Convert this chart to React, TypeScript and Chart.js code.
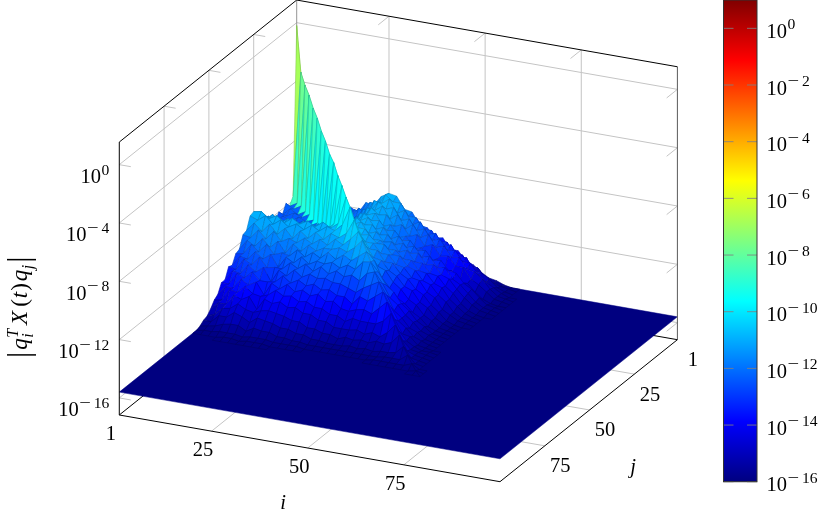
import React, { useEffect, useRef } from "react";
import { Chart, registerables } from "chart.js";

Chart.register(...registerables);

// Log10 magnitude table. The matrix is symmetric, so only i < j is listed.
const sampledIndex = [1, 3, 5, 7, 9, 11, 13, 15, 17, 19, 21, 23, 25, 27, 29, 31, 33, 35, 37, 39, 41, 43, 45, 47, 49, 51, 53, 55, 57, 59];
const meshIndex = [...sampledIndex, 61, 100];
const floorLog = -15.6;
const diagonalLog = [-0.2, -3.1, -3.7, -4.1, -4.7, -5.1, -5.7, -6.1, -6.7, -7.0, -7.6, -8.0, -8.5, -8.9, -9.5, -10.0, -10.3, -10.8, -11.2, -11.6, -12.0, -12.4, -12.8, -13.3, -13.8, -14.2, -14.7, -15.0, -15.3, -15.5];
const offDiagonalLog = [
  [],
  [-11.7],
  [-12.2, -11.9],
  [-11.8, -12.1, -11.8],
  [-12.4, -11.9, -12.2, -11.9],
  [-12.0, -12.2, -11.9, -12.1, -11.8],
  [-12.5, -12.0, -12.3, -11.9, -12.1, -11.9],
  [-12.0, -12.3, -12.0, -12.2, -11.9, -12.1, -11.8],
  [-12.3, -11.9, -12.2, -11.9, -12.2, -11.9, -12.0, -11.8],
  [-11.5, -12.0, -11.5, -12.1, -11.6, -12.1, -11.6, -12.0, -11.4],
  [-11.6, -11.2, -11.8, -11.3, -11.9, -11.4, -11.8, -11.4, -11.7, -11.2],
  [-10.9, -11.3, -10.8, -11.3, -10.9, -11.4, -10.9, -11.3, -10.9, -11.2, -10.7],
  [-10.6, -10.5, -10.9, -10.6, -11.0, -10.6, -10.9, -10.6, -10.9, -10.5, -10.8, -10.4],
  [-10.7, -10.9, -10.5, -11.0, -10.6, -11.0, -10.7, -11.0, -10.6, -10.9, -10.5, -10.7, -10.2],
  [-11.5, -10.9, -11.4, -10.8, -11.4, -10.9, -11.5, -10.9, -11.3, -10.8, -11.2, -10.7, -10.9, -10.5],
  [-11.6, -11.7, -11.1, -11.6, -11.0, -11.6, -11.3, -11.5, -11.1, -11.4, -11.0, -11.3, -10.8, -11.1, -10.6],
  [-12.4, -11.7, -12.0, -11.4, -11.9, -11.4, -12.1, -11.4, -11.8, -11.3, -11.6, -11.3, -11.3, -11.1, -11.3, -10.9],
  [-12.5, -12.4, -11.7, -12.1, -11.5, -12.1, -11.9, -12.0, -11.5, -11.9, -11.5, -11.8, -11.3, -11.7, -11.3, -11.6, -11.2],
  [-13.1, -12.4, -12.5, -11.9, -12.3, -11.9, -12.7, -11.9, -12.2, -11.7, -12.1, -11.8, -11.9, -11.7, -12.0, -11.7, -11.9, -11.3],
  [-13.0, -13.1, -12.3, -12.6, -12.0, -12.6, -12.5, -12.5, -12.0, -12.3, -11.9, -12.3, -11.9, -12.3, -12.0, -12.3, -12.1, -12.4, -11.8],
  [-13.7, -13.0, -13.1, -12.4, -12.8, -12.4, -13.3, -12.4, -12.7, -12.2, -12.6, -12.3, -12.5, -12.4, -12.6, -12.6, -12.8, -13.0, -12.6, -12.3],
  [-13.7, -13.7, -12.9, -13.1, -12.6, -13.1, -13.1, -13.0, -12.5, -12.9, -12.6, -12.9, -12.7, -13.0, -12.9, -13.2, -13.2, -13.6, -13.0, -13.2, -12.8],
  [-14.3, -13.7, -13.7, -13.0, -13.3, -13.0, -13.8, -12.9, -13.2, -12.8, -13.2, -13.0, -13.3, -13.1, -13.5, -13.4, -13.8, -13.9, -13.7, -13.6, -13.8, -13.3],
  [-14.5, -14.4, -13.6, -13.7, -13.2, -13.6, -13.7, -13.5, -13.1, -13.4, -13.3, -13.6, -13.5, -13.8, -13.8, -14.1, -14.1, -14.4, -14.1, -14.2, -14.2, -14.2, -13.9],
  [-14.9, -14.4, -14.4, -13.7, -13.9, -13.6, -14.4, -13.6, -13.8, -13.6, -13.9, -13.8, -14.1, -14.1, -14.4, -14.4, -14.7, -14.7, -14.7, -14.6, -14.8, -14.6, -14.8, -14.4],
  [-15.2, -15.0, -14.5, -14.4, -14.0, -14.3, -14.4, -14.2, -14.1, -14.2, -14.3, -14.5, -14.5, -14.8, -14.8, -15.0, -15.0, -15.2, -15.0, -15.1, -15.0, -15.1, -14.9, -15.0, -14.8],
  [-15.3, -15.3, -14.8, -14.8, -14.4, -14.6, -14.9, -14.5, -14.6, -14.7, -14.9, -14.9, -15.1, -15.1, -15.3, -15.3, -15.4, -15.4, -15.4, -15.3, -15.4, -15.3, -15.4, -15.3, -15.3, -15.2],
  [-15.5, -15.4, -15.3, -15.1, -15.0, -15.0, -15.3, -15.0, -15.1, -15.1, -15.3, -15.3, -15.4, -15.4, -15.5, -15.5, -15.5, -15.5, -15.5, -15.5, -15.5, -15.5, -15.5, -15.5, -15.4, -15.4, -15.4],
  [-15.6, -15.5, -15.5, -15.4, -15.4, -15.4, -15.5, -15.4, -15.4, -15.4, -15.5, -15.5, -15.5, -15.5, -15.6, -15.6, -15.6, -15.6, -15.6, -15.6, -15.6, -15.6, -15.6, -15.5, -15.5, -15.5, -15.5, -15.5],
  [-15.6, -15.6, -15.6, -15.6, -15.5, -15.5, -15.6, -15.5, -15.5, -15.5, -15.6, -15.6, -15.6, -15.6, -15.6, -15.6, -15.6, -15.6, -15.6, -15.6, -15.6, -15.6, -15.6, -15.6, -15.6, -15.6, -15.6, -15.6, -15.6],
];

const iTicks = [1, 25, 50, 75];
const jTicks = [1, 25, 50, 75];
const zTicks = [-16, -12, -8, -4, 0];
const colorbarTicks = [-16, -14, -12, -10, -8, -6, -4, -2, 0];
const jetStops = [0, 0.125, 0.375, 0.625, 0.875, 1];
const jetColors = [[0, 0, 128], [0, 0, 255], [0, 255, 255], [255, 255, 0], [255, 0, 0], [128, 0, 0]];

const Z_MIN = -17.17;
const Z_MAX = 1.55;
const COLOR_MAX = 1;
const SERIF = '"Liberation Serif", serif';
const GRID = "rgb(196,196,196)";

function project(i: number, j: number, z: number) {
  return {
    x: 296.7 + (i - 1) * 3.8455 - (j - 1) * 1.792,
    y: 273 + (i - 1) * 0.6737 + (j - 1) * 1.4343 - (z - Z_MIN) * 14.58,
  };
}

function nodeLog(a: number, b: number) {
  if (a >= sampledIndex.length || b >= sampledIndex.length) return floorLog;
  if (a === b) return diagonalLog[a];
  return a < b ? offDiagonalLog[b][a] : offDiagonalLog[a][b];
}

function jet(t: number) {
  const v = Math.min(1, Math.max(0, t));
  let k = 0;
  while (k < jetStops.length - 2 && v > jetStops[k + 1]) k++;
  const f = (v - jetStops[k]) / (jetStops[k + 1] - jetStops[k]);
  return jetColors[k].map((c, n) => c + (jetColors[k + 1][n] - c) * f);
}

const BREAK = { x: NaN, y: NaN };
const segments = (list: number[][][]) =>
  list.flatMap(([a, b]) => [project(a[0], a[1], a[2]), project(b[0], b[1], b[2]), BREAK]);

const I0 = 1, I1 = 100, J0 = 1, J1 = 100;

const gridLines = segments([
  ...iTicks.slice(1).flatMap((i) => [
    [[i, J1, Z_MIN], [i, J0, Z_MIN]],
    [[i, J0, Z_MIN], [i, J0, Z_MAX]],
    [[i, J0, Z_MAX], [i, J0 + 6, Z_MAX]],
  ]),
  ...jTicks.slice(1).flatMap((j) => [
    [[I1, j, Z_MIN], [I0, j, Z_MIN]],
    [[I0, j, Z_MIN], [I0, j, Z_MAX]],
    [[I0, j, Z_MAX], [I0 + 3, j, Z_MAX]],
  ]),
  ...zTicks.flatMap((z) => [
    [[I0, J1, z], [I0, J0, z]],
    [[I0, J0, z], [I1, J0, z]],
    [[I0, J1, z], [I0 + 3, J1, z]],
    [[I1, J0, z], [I1, J0 + 6, z]],
  ]),
]);

const backBox = segments([
  [[I0, J1, Z_MIN], [I0, J0, Z_MIN]],
  [[I0, J0, Z_MIN], [I1, J0, Z_MIN]],
]);
const backPost = segments([[[I0, J0, Z_MIN], [I0, J0, Z_MAX]]]);
const frontBox = segments([
  [[I0, J1, Z_MIN], [I0, J1, Z_MAX]],
  [[I0, J1, Z_MAX], [I0, J0, Z_MAX]],
  [[I0, J0, Z_MAX], [I1, J0, Z_MAX]],
  [[I0, J1, Z_MIN], [I1, J1, Z_MIN]],
  [[I1, J1, Z_MIN], [I1, J0, Z_MIN]],
]);
const rightPost = segments([[[I1, J0, Z_MIN], [I1, J0, Z_MAX]]]);

const floorCorners = [
  project(I0, J0, floorLog),
  project(I1, J0, floorLog),
  project(I1, J1, floorLog),
  project(I0, J1, floorLog),
];

const surfaceNodes = meshIndex.flatMap((j, b) =>
  meshIndex.map((i, a) => {
    const z = nodeLog(a, b);
    return { ...project(i, j, z), z };
  })
);

function lineSet(data: any[], color: string, width: number, order: number, label: string) {
  return {
    label,
    data,
    showLine: true,
    spanGaps: false,
    // a dash that never gaps keeps Chart.js from its path for x-sorted lines
    borderDash: [4000, 0],
    borderColor: color,
    borderWidth: width,
    pointRadius: 0,
    order,
  };
}

function drawPower(ctx: any, x: number, base: number, exp: string, align: "left" | "right", size = 20.5) {
  const sup = size * 0.76;
  ctx.textBaseline = "alphabetic";
  ctx.textAlign = "left";
  const neg = exp.startsWith("-");
  const digits = neg ? exp.slice(1) : exp;
  ctx.font = `${sup}px ${SERIF}`;
  const dw = ctx.measureText(digits).width;
  const expW = dw + (neg ? 14.5 : 0);
  ctx.font = `${size}px ${SERIF}`;
  const bw = ctx.measureText("10").width;
  const left = align === "left" ? x : x - bw - 0.5 - expW;
  ctx.fillText("10", left, base);
  ctx.font = `${sup}px ${SERIF}`;
  const ex = left + bw + 0.5;
  if (neg) {
    ctx.save();
    ctx.translate(ex, base - 8.5);
    ctx.scale(1.32, 1);
    ctx.fillText("\u2212", 0, 0);
    ctx.restore();
    ctx.fillText(digits, ex + 14.5, base - 8.5);
  } else {
    ctx.fillText(digits, ex, base - 8.5);
  }
}

const surfacePlugin = {
  id: "surfacePlugin",
  afterDatasetDraw(chart: any, args: any) {
    if (chart.data.datasets[args.index].label !== "surface") return;
    const ctx = chart.ctx;
    const sx = chart.scales.x;
    const sy = chart.scales.y;
    const nodes = chart.data.datasets[args.index].data;
    const n = meshIndex.length;
    const pix = (p: any) => [sx.getPixelForValue(p.x), sy.getPixelForValue(p.y)];
    const poly = (pts: any[], fill: string, edge: string, width: number) => {
      ctx.beginPath();
      pts.forEach((p: any, k: number) => {
        const [px, py] = pix(p);
        if (k === 0) ctx.moveTo(px, py);
        else ctx.lineTo(px, py);
      });
      ctx.closePath();
      ctx.fillStyle = fill;
      ctx.fill();
      ctx.strokeStyle = edge;
      ctx.lineWidth = width;
      ctx.stroke();
    };
    ctx.save();
    ctx.lineJoin = "round";
    const navy = `rgb(${jetColors[0].join(",")})`;
    poly(floorCorners, navy, navy, 0.5);
    for (let b = 0; b < n - 1; b++) {
      for (let a = 0; a < n - 1; a++) {
        const c = [nodes[b * n + a], nodes[b * n + a + 1], nodes[(b + 1) * n + a + 1], nodes[(b + 1) * n + a]];
        const zs = c.map((p: any) => p.z);
        if (zs.every((v: number) => v === floorLog)) continue;
        const mean = zs.reduce((s: number, v: number) => s + v, 0) / 4;
        const top = Math.max(...zs);
        const tone = a === b ? mean : mean + 0.2 * (top - mean);
        const rgb = jet((tone - floorLog) / (COLOR_MAX - floorLog));
        const fill = `rgb(${rgb.map(Math.round).join(",")})`;
        const edge = `rgb(${rgb.map((v: number) => Math.round(v * 0.76)).join(",")})`;
        if (a === b) {
          poly([c[0], c[1], c[2]], fill, edge, 0.5);
          poly([c[0], c[2], c[3]], fill, edge, 0.5);
        } else {
          poly(c, fill, edge, 0.6);
        }
      }
    }
    ctx.restore();
  },
  afterDraw(chart: any) {
    const ctx = chart.ctx;
    const cb = chart.scales.cb;
    const sx = chart.scales.x;
    const sy = chart.scales.y;
    ctx.save();

    // colour bar
    const bx0 = sx.getPixelForValue(723.5);
    const bx1 = sx.getPixelForValue(757);
    const yBot = cb.getPixelForValue(1e-16);
    const yTop = cb.getPixelForValue(10);
    const grad = ctx.createLinearGradient(0, yBot, 0, yTop);
    jetStops.forEach((s, k) => grad.addColorStop(s, `rgb(${jetColors[k].join(",")})`));
    ctx.fillStyle = grad;
    ctx.fillRect(bx0, yTop, bx1 - bx0, yBot - yTop);
    ctx.strokeStyle = "rgba(128,128,128,0.85)";
    ctx.lineWidth = 1;
    colorbarTicks.forEach((e) => {
      const y = cb.getPixelForValue(Math.pow(10, e));
      ctx.beginPath();
      ctx.moveTo(bx0, y);
      ctx.lineTo(bx0 + 10, y);
      ctx.moveTo(bx1 - 10, y);
      ctx.lineTo(bx1, y);
      ctx.stroke();
    });
    ctx.strokeStyle = "rgb(50,50,50)";
    ctx.strokeRect(bx0, yTop, bx1 - bx0, yBot - yTop);

    ctx.fillStyle = "#000";
    colorbarTicks.forEach((e) => {
      const y = cb.getPixelForValue(Math.pow(10, e));
      drawPower(ctx, 766.5, y + 9.5, String(e), "left");
    });

    // z axis labels
    zTicks.forEach((z) => {
      const p = project(I0, J1, z);
      drawPower(ctx, sx.getPixelForValue(p.x) - 10, sy.getPixelForValue(p.y) + 18.5, String(z), "right");
    });

    // i and j labels
    ctx.font = `20.5px ${SERIF}`;
    ctx.textAlign = "center";
    ctx.textBaseline = "alphabetic";
    iTicks.forEach((i) => {
      const p = project(i, J1, Z_MIN);
      ctx.fillText(String(i), sx.getPixelForValue(p.x) - 8.5, sy.getPixelForValue(p.y) + 25);
    });
    jTicks.forEach((j) => {
      const p = project(I1, j, Z_MIN);
      ctx.fillText(String(j), sx.getPixelForValue(p.x) + 15.5, sy.getPixelForValue(p.y) + 26.5);
    });
    ctx.font = `italic 20.5px ${SERIF}`;
    ctx.fillText("i", 283, 509);
    ctx.fillText("j", 633, 473);

    // z axis title
    ctx.translate(27, 358);
    ctx.rotate(-Math.PI / 2);
    ctx.textAlign = "left";
    let x = 0;
    const run = (text: string, style: string, size: number, dy = 0, gap = 0) => {
      ctx.font = `${style} ${size}px ${SERIF}`;
      ctx.fillText(text, x, dy);
      x += ctx.measureText(text).width + gap;
    };
    run("|", "", 31, 1.5, 2);
    run("q", "italic", 23, 0, 0.5);
    const after = x;
    run("T", "italic", 16, -9.5, 0);
    const afterT = x;
    x = after;
    run("i", "italic", 16, 6, 0);
    x = Math.max(x, afterT) + 4;
    run("X", "italic", 23, 0, 4);
    run("(", "", 23, 0, 1);
    run("t", "italic", 23, 0, 1);
    run(")", "", 23, 0, 2);
    run("q", "italic", 23, 0, 0.5);
    run("j", "italic", 16, 6, 2);
    run("|", "", 31, 1.5, 0);
    ctx.restore();
  },
};

export default function App() {
  const ref = useRef<HTMLCanvasElement | null>(null);
  useEffect(() => {
    if (!ref.current) return;
    const chart = new Chart(ref.current, {
      type: "scatter",
      data: {
        datasets: [
          lineSet(gridLines, GRID, 1, 60, "grid"),
          lineSet(backBox, "#000", 1, 55, "back box"),
          lineSet(backPost, "rgb(150,150,150)", 1, 50, "back post"),
          { label: "surface", data: surfaceNodes, pointRadius: 0, showLine: false, order: 40 },
          lineSet(rightPost, "rgb(90,90,90)", 1, 20, "right post"),
          lineSet(frontBox, "#000", 1, 10, "front box"),
        ] as any,
      },
      options: {
        animation: false,
        responsive: false,
        events: [],
        layout: { padding: 0 },
        plugins: { legend: { display: false }, tooltip: { enabled: false } },
        scales: {
          x: { type: "linear", min: 0, max: 830, display: false },
          y: { type: "linear", min: 0, max: 518, reverse: true, display: false },
          cb: { type: "logarithmic", axis: "y", min: Math.pow(10, -17.28), max: 10, display: false },
        },
      } as any,
      plugins: [surfacePlugin],
    });
    return () => chart.destroy();
  }, []);
  return (
    <div style={{ position: "fixed", left: 0, top: 0, width: 830, height: 518, background: "#fff" }}>
      <canvas ref={ref} width={830} height={518} style={{ display: "block" }} />
    </div>
  );
}
